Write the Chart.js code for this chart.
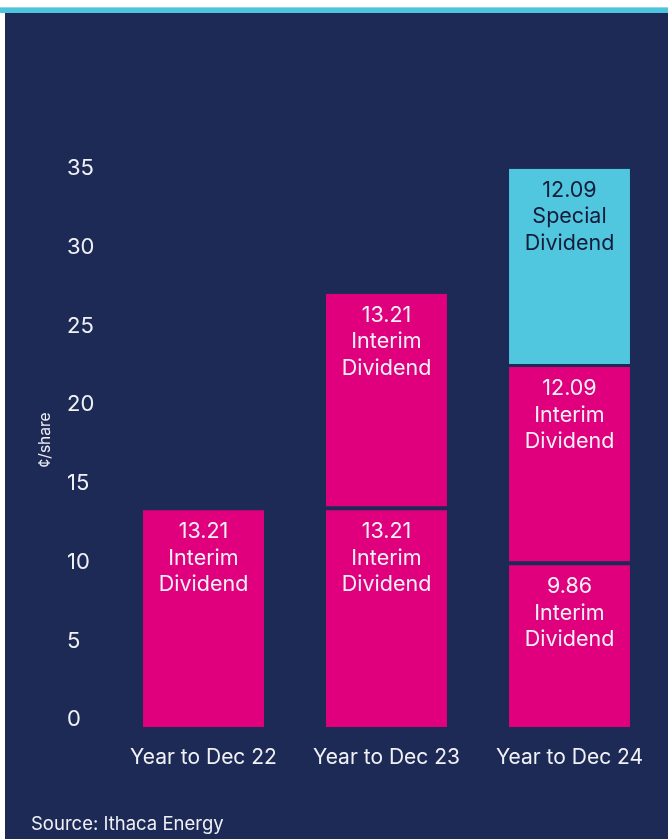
<!DOCTYPE html>
<html><head><meta charset="utf-8">
<script src="https://cdn.jsdelivr.net/npm/chart.js@4/dist/chart.umd.min.js"></script>
<style>
html,body{margin:0;padding:0;background:#fff;width:668px;height:839px;overflow:hidden;}
#stripe{position:absolute;left:0;top:7px;width:668px;height:6px;background:#4ec4dd;border-top:1px solid #8fdaea;box-sizing:border-box;}
#panel{position:absolute;left:5px;top:13px;width:663px;height:826px;background:#1e2a56;}
#chart{position:absolute;left:0;top:0;}
#source{position:absolute;left:31px;top:814px;font:18.5px/18.5px Inter, sans-serif;color:#eef0f5;white-space:nowrap;}
</style></head><body>
<div id="stripe"></div><div id="panel"></div>
<canvas id="chart" width="668" height="839"></canvas>
<div id="source">Source: Ithaca Energy</div>
<script>
const categories = ['Year to Dec 22', 'Year to Dec 23', 'Year to Dec 24'];
const interimFirst = [13.21, 13.21, 9.86];
const interimSecond = [null, 13.21, 12.09];
const specialDividend = [null, null, 12.09];
const yTickValues = [0, 5, 10, 15, 20, 25, 30, 35];
const yTitle = '¢/share';

const NAVY = '#1e2a56', PINK = '#e0007e', CYAN = '#50c6df', TXT = '#f0f1f5';

const barLabels = {
  id: 'barLabels',
  afterDatasetsDraw(chart) {
    const ctx = chart.ctx;
    chart.data.datasets.forEach((ds, i) => {
      const meta = chart.getDatasetMeta(i);
      meta.data.forEach((el, j) => {
        const v = ds.data[j];
        if (v == null) return;
        const lines = [v.toFixed(2), ds.kind, 'Dividend'];
        ctx.save();
        ctx.font = '21.5px Inter, sans-serif';
        ctx.fillStyle = ds.labelColor;
        ctx.textAlign = 'center';
        ctx.textBaseline = 'alphabetic';
        lines.forEach((t, k) => ctx.fillText(t, el.x, el.y + 28 + k * 26.5));
        ctx.restore();
      });
    });
  }
};

new Chart(document.getElementById('chart'), {
  type: 'bar',
  data: {
    labels: categories,
    datasets: [
      { data: interimFirst, kind: 'Interim', labelColor: TXT, backgroundColor: PINK, borderWidth: 0 },
      { data: interimSecond, kind: 'Interim', labelColor: TXT, backgroundColor: PINK, borderColor: NAVY,
        borderWidth: { top: 0, left: 0, right: 0, bottom: 4 }, borderSkipped: false },
      { data: specialDividend, kind: 'Special', labelColor: '#151c3a', backgroundColor: CYAN, borderColor: NAVY,
        borderWidth: { top: 0, left: 0, right: 0, bottom: 3 }, borderSkipped: false }
    ]
  },
  options: {
    responsive: false,
    animation: false,
    devicePixelRatio: 1,
    layout: { padding: { left: 32, right: 7, top: 153, bottom: 62 } },
    datasets: { bar: { categoryPercentage: 1, barPercentage: 0.661 } },
    plugins: { legend: { display: false }, tooltip: { enabled: false } },
    scales: {
      x: {
        stacked: true,
        grid: { display: false, drawTicks: false },
        border: { display: false },
        ticks: { color: TXT, font: { family: 'Inter', size: 21 }, padding: 18 },
        afterFit(s) { s.height = 50; }
      },
      y: { stacked: true, display: false, min: 0, max: 35 },
      yt: {
        type: 'linear', position: 'left', weight: 1, min: -0.463, max: 35.98,
        grid: { display: false, drawTicks: false },
        border: { display: false },
        ticks: { crossAlign: 'far', color: TXT, font: { family: 'Inter', size: 22 }, padding: 0 },
        afterBuildTicks(s) { s.ticks = yTickValues.map(v => ({ value: v })); },
        afterFit(s) { s.width = 45; }
      },
      ytitle: {
        type: 'linear', position: 'left', weight: 2, min: 0, max: 1,
        grid: { display: false, drawTicks: false },
        border: { display: false },
        ticks: { display: false },
        title: { display: true, text: yTitle, color: TXT, font: { family: 'Inter', size: 15.5 }, padding: { top: 4, bottom: 4 } },
        afterFit(s) { s.width = 35; }
      }
    }
  },
  plugins: [barLabels]
});
</script>
</body></html>
